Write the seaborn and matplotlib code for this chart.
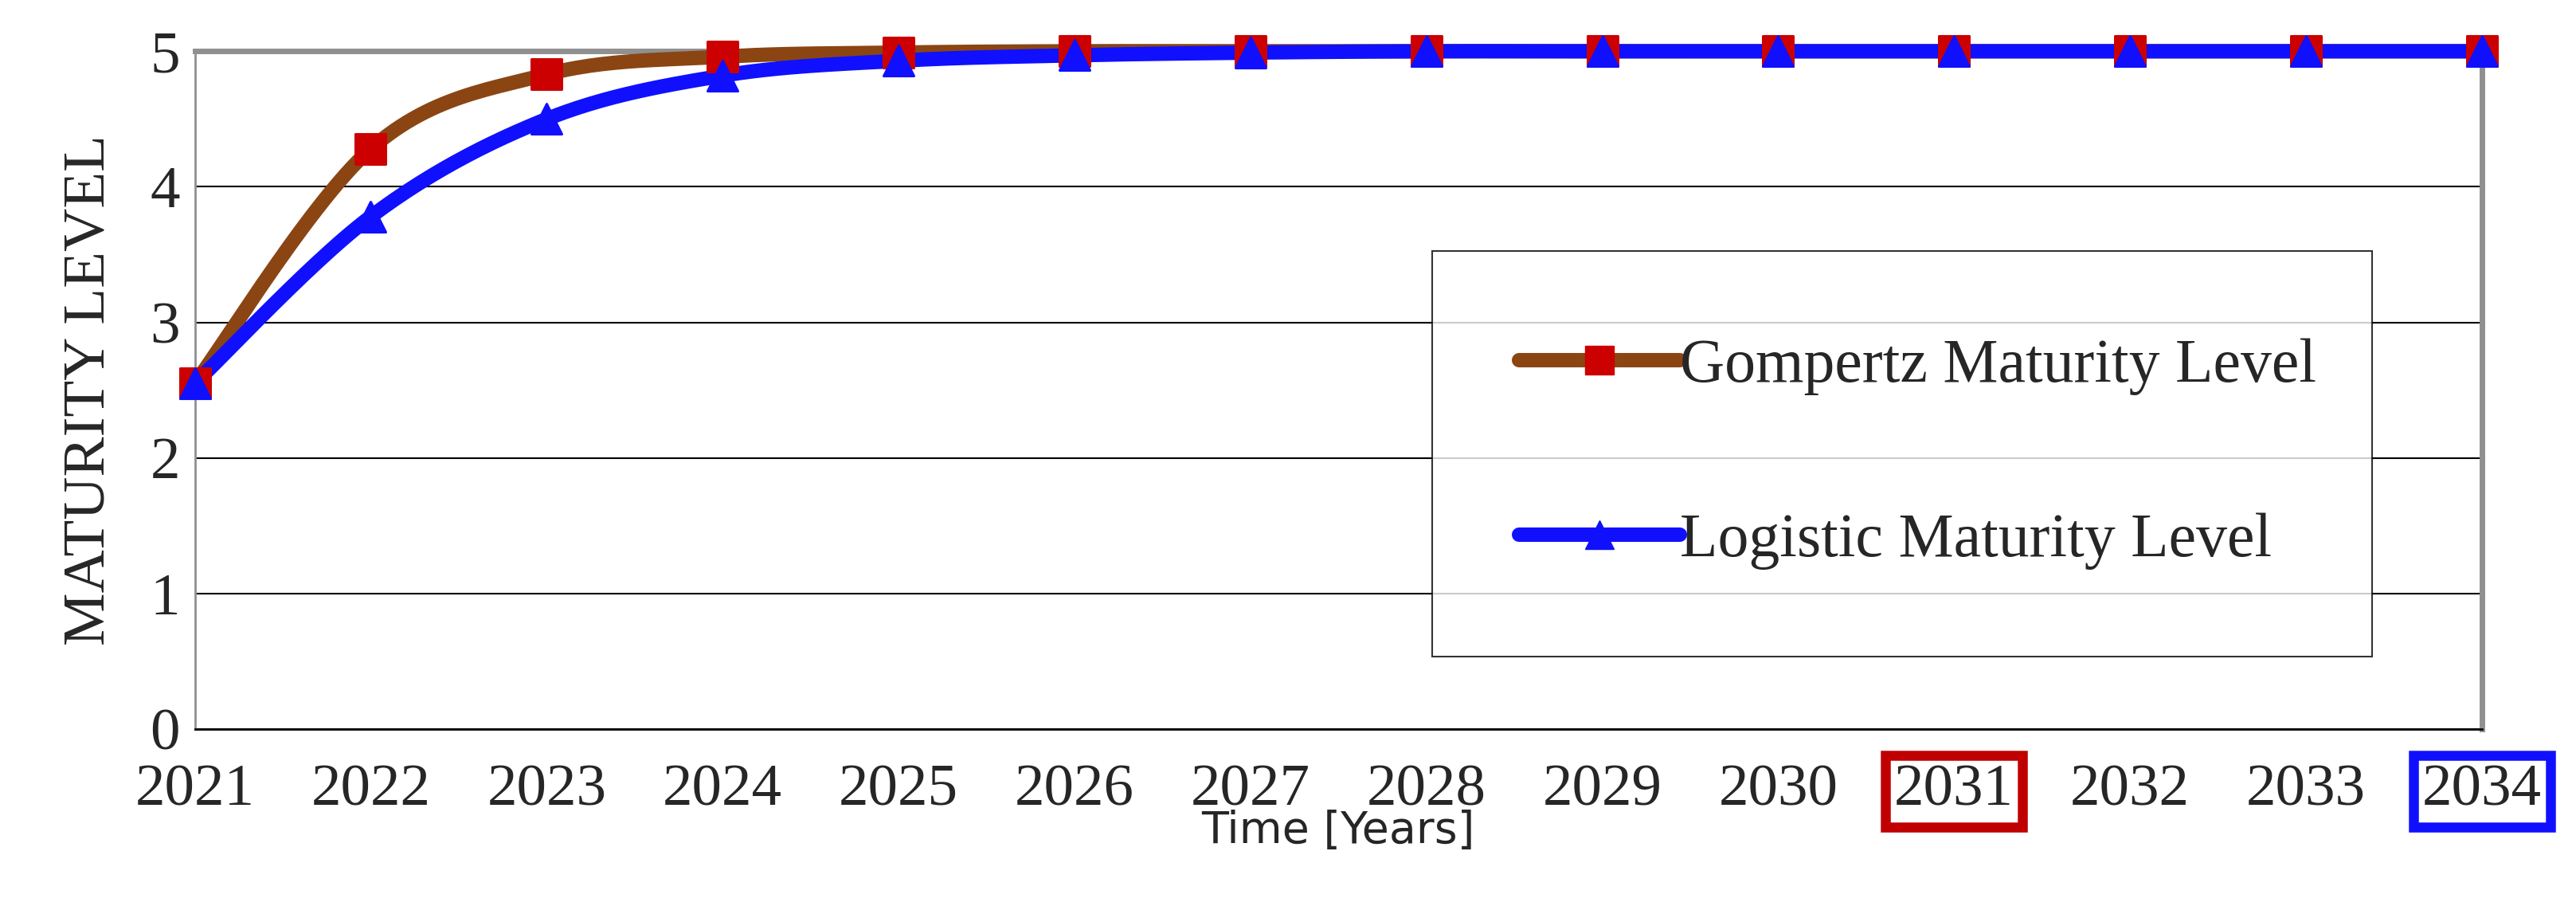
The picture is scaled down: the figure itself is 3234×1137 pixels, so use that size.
import numpy as np
import pandas as pd
import matplotlib
matplotlib.use("Agg")
import matplotlib.pyplot as plt
import seaborn as sns

years = list(range(2021, 2035))
gompertz = [2.55, 4.28, 4.83, 4.96, 4.99, 5.0, 5.0, 5.0, 5.0, 5.0, 5.0, 5.0, 5.0, 5.0]
logistic = [2.55, 3.78, 4.50, 4.82, 4.93, 4.97, 4.99, 5.0, 5.0, 5.0, 5.0, 5.0, 5.0, 5.0]
yticks = [0, 1, 2, 3, 4, 5]

sns.set_style("white")
plt.rcParams['font.family'] = ['Liberation Serif', 'DejaVu Serif']

fig = plt.figure(figsize=(32.34, 11.37), dpi=100)
ax = fig.add_axes([118/1560, 1-441/548, 1385/1560, 410/548])

def smooth(x, y, n=30):
    x = np.asarray(x, float); y = np.asarray(y, float)
    P = np.column_stack([x, y])
    P = np.vstack([P[0], P, P[-1]])
    out = []
    for i in range(1, len(P) - 2):
        p0, p1, p2, p3 = P[i-1], P[i], P[i+1], P[i+2]
        t = np.linspace(0, 1, n)[:, None]
        seg = 0.5*((2*p1) + (-p0+p2)*t + (2*p0-5*p1+4*p2-p3)*t**2 + (-p0+3*p1-3*p2+p3)*t**3)
        out.append(seg)
    s = np.vstack(out)
    return s[:, 0], s[:, 1]

df = pd.DataFrame({"year": years, "g": gompertz, "l": logistic})
for col, lc, mc, mk, lab in [("g", "#8B4513", "#CC0000", "s", "Gompertz Maturity Level"),
                              ("l", "#1010FF", "#1010FF", "^", "Logistic Maturity Level")]:
    sx, sy = smooth(df["year"], df[col])
    ax.plot(sx, sy, color=lc, lw=13, solid_capstyle='round', zorder=3, clip_on=False)
    sns.scatterplot(x=df["year"], y=df[col], ax=ax, marker=mk, s=750, color=mc,
                    edgecolor=mc, zorder=4, legend=False, clip_on=False)
    ax.plot([], [], color=lc, lw=13, marker=mk, ms=26, mfc=mc, mec=mc, label=lab,
            solid_capstyle='round')

ax.set_xlim(2021, 2034)
ax.set_ylim(0, 5)
ax.set_yticks(yticks)
ax.set_xticks(years)
ax.yaxis.grid(True, color='black', lw=1.5)
ax.tick_params(axis='both', labelsize=54, length=10, width=1.5, direction='out', color='black')
ax.tick_params(axis='x', pad=22)
ax.set_xlabel("Time [Years]", family=['DejaVu Sans'], fontsize=40, labelpad=-8)
ax.set_ylabel("MATURITY LEVEL", fontsize=54, labelpad=30)
for s in ['top', 'right']:
    ax.spines[s].set_color('#909090'); ax.spines[s].set_linewidth(5)
ax.spines['left'].set_color('#909090'); ax.spines['left'].set_linewidth(2)
ax.spines['bottom'].set_color('black'); ax.spines['bottom'].set_linewidth(2)

for lbl in ax.get_xticklabels():
    if lbl.get_text() == '2031':
        lbl.set_bbox(dict(facecolor='none', edgecolor='#C00000', lw=9, pad=8))
    if lbl.get_text() == '2034':
        lbl.set_bbox(dict(facecolor='none', edgecolor='#1010FF', lw=9, pad=8))

leg = ax.legend(loc='lower left', bbox_to_anchor=(0.541, 0.107, 0.411, 0.559), mode='expand',
                fontsize=56, frameon=True, fancybox=False, edgecolor='black',
                labelspacing=1.9, handlelength=2.6, handletextpad=0.0, borderpad=1.4,
                borderaxespad=0)
leg.get_frame().set_linewidth(1.5)
leg.set_zorder(5)

fig.savefig("out.png", dpi=100)
